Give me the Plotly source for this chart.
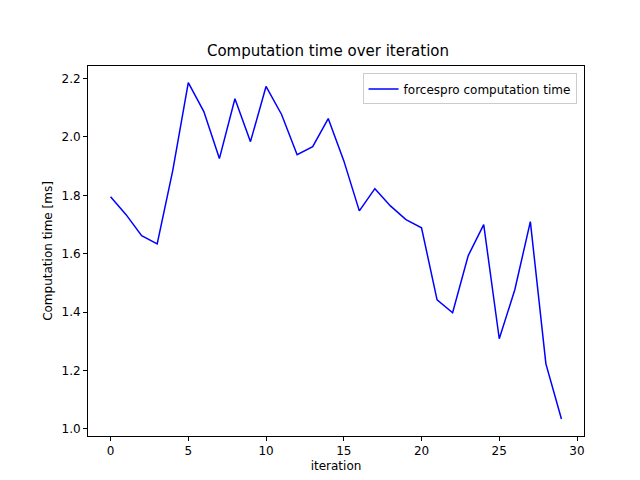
import plotly.graph_objects as go

iteration = list(range(30))
comp_time = [1.795, 1.734, 1.662, 1.634, 1.885, 2.186, 2.087, 1.926, 2.131, 1.984,
             2.173, 2.077, 1.939, 1.967, 2.063, 1.919, 1.747, 1.823, 1.764, 1.717,
             1.689, 1.442, 1.398, 1.593, 1.700, 1.309, 1.477, 1.710, 1.223, 1.034]

fig = go.Figure()
fig.add_trace(go.Scatter(x=iteration, y=comp_time, mode="lines",
                         line=dict(color="blue", width=1.5),
                         name="forcespro computation time"))

axis_style = dict(showline=True, linecolor="black", linewidth=1, mirror=True,
                  ticks="outside", ticklen=4, tickcolor="black", showgrid=False,
                  zeroline=False, tickfont=dict(size=12, color="black"),
                  automargin=False)

fig.update_layout(
    width=640, height=480,
    margin=dict(l=80, r=64, t=58, b=52, autoexpand=False),
    plot_bgcolor="white", paper_bgcolor="white",
    font=dict(family="DejaVu Sans", color="black"),
    title=dict(text="Computation time over iteration", x=0.5, xanchor="center",
               y=0.91, yanchor="middle", font=dict(size=15), automargin=False),
    xaxis=dict(axis_style, range=[-1.45, 30.45], tickvals=[0, 5, 10, 15, 20, 25, 30],
               title=dict(text="iteration", font=dict(size=12), standoff=4)),
    yaxis=dict(axis_style, range=[0.976, 2.243],
               tickvals=[1.0, 1.2, 1.4, 1.6, 1.8, 2.0, 2.2], tickformat=".1f",
               title=dict(text="Computation time [ms]", font=dict(size=12), standoff=6)),
    legend=dict(x=0.985, y=0.98, xanchor="right", yanchor="top",
                bordercolor="#cccccc", borderwidth=1, bgcolor="white",
                font=dict(size=12)),
    showlegend=True,
)

fig.write_html("out.html")
